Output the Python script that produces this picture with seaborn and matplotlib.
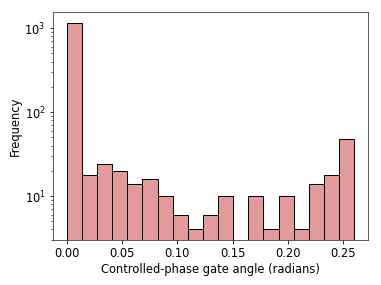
import numpy as np
import pandas as pd
import matplotlib
matplotlib.use("Agg")
import matplotlib.pyplot as plt
import seaborn as sns

# histogram: 19 equal bins from 0 to 0.26 rad
angle_min = 0.0
angle_max = 0.26
counts = [1150, 18, 24, 20, 14, 16, 10, 6, 4, 6, 10, 0, 10, 4, 10, 4, 14, 18, 48]

edges = np.linspace(angle_min, angle_max, len(counts) + 1)
centers = (edges[:-1] + edges[1:]) / 2
df = pd.DataFrame({"angle": centers, "count": counts})

plt.rcParams["font.family"] = ["DejaVu Sans"]
plt.rcParams["font.size"] = 11.5

fig, ax = plt.subplots(figsize=(381 / 72, 285 / 72), dpi=72)
fig.subplots_adjust(left=0.138, right=0.967, top=0.957, bottom=0.158)

sns.histplot(
    data=df,
    x="angle",
    weights="count",
    bins=len(counts),
    binrange=(angle_min, angle_max),
    color="#e39a9a",
    alpha=1.0,
    edgecolor="black",
    linewidth=1.0,
    ax=ax,
)
ax.set_yscale("log")
ax.set_ylim(3.0, 1550)
ax.set_xlabel("Controlled-phase gate angle (radians)", labelpad=3)
ax.set_ylabel("Frequency", labelpad=3)
for s in ax.spines.values():
    s.set_color("#333333")

fig.savefig("out.png", dpi=72)
